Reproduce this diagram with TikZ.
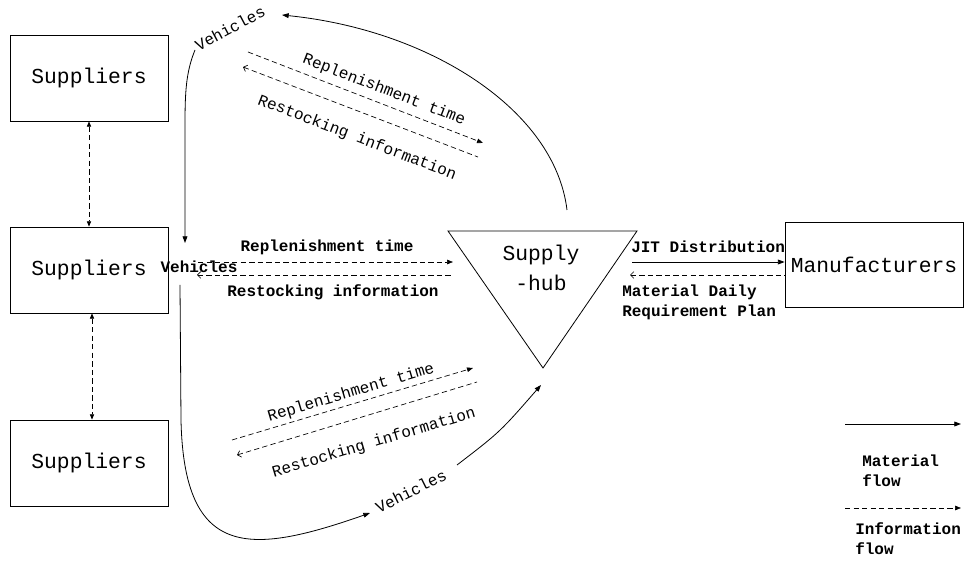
\documentclass[tikz,border=0pt]{standalone}
\usepackage{fontspec}
\setmainfont{Liberation Mono}
\usetikzlibrary{arrows.meta}
\tikzset{
  box/.style={draw, line width=0.6pt, inner sep=0pt, font=\fontsize{16}{18}\selectfont},
  lbl/.style={inner sep=0pt, font=\fontsize{12}{13}\selectfont},
  blbl/.style={inner sep=0pt, font=\fontsize{12}{13}\selectfont\bfseries, align=left},
  matflow/.style={line width=0.6pt, -{Triangle[length=5pt,width=3.6pt]}},
  infoflow/.style={line width=0.5pt, dash pattern=on 4pt off 2.4pt},
  fhead/.style={-{Triangle[length=4.5pt,width=3.4pt]}},
  ohead/.style={{Straight Barb[length=2.5pt,width=5pt]}-},
  bothhead/.style={{Triangle[length=4pt,width=3.2pt]}-{Triangle[length=4pt,width=3.2pt]}}
}
\begin{document}
\begin{tikzpicture}[x=0.75pt,y=-0.75pt]
\useasboundingbox (0,0) rectangle (965,573);
% supplier boxes
\node[box, minimum width=118.5pt, minimum height=64.5pt] (s1) at (89,78) {Suppliers};
\node[box, minimum width=118.5pt, minimum height=64.5pt] (s2) at (89,270) {Suppliers};
\node[box, minimum width=118.5pt, minimum height=64.5pt] (s3) at (89,463) {Suppliers};
\draw[infoflow, bothhead] (s1.south) -- (s2.north);
\draw[infoflow, bothhead] ([xshift=2.25pt]s2.south) -- ([xshift=2.25pt]s3.north);
% manufacturers
\node[box, minimum width=133.5pt, minimum height=63.75pt] (m) at (874,264.5) {Manufacturers};
% supply hub triangle
\coordinate (tl) at (448,231);
\coordinate (tr) at (637,231);
\coordinate (tb) at (543,368);
\draw[line width=0.6pt] (tl) -- (tr) -- (tb) -- cycle;
\node[inner sep=0pt, align=center, font=\fontsize{16}{22}\selectfont] (hub) at (541,268) {Supply\\-hub};
% top route
\coordinate (htop) at (567,210);
\coordinate (vtopend) at (282,15);
\draw[matflow] (htop) .. controls (555,110) and (430,30) .. (vtopend);
\node[lbl, rotate=28] (vtop) at (230,28) {Vehicles};
\coordinate (vdown1) at (195,50);
\coordinate (vdown2) at (185,243);
\draw[matflow] (vdown1) .. controls (186,72) and (185,92) .. (185,125) -- (vdown2);
\coordinate (ta1) at (248,52);
\coordinate (ta2) at (483,143);
\coordinate (tb1) at (478,157);
\coordinate (tb2) at (243,67);
\draw[infoflow, fhead] (ta1) -- (ta2);
\draw[infoflow, ohead] (tb2) -- (tb1);
\node[lbl, rotate=-21] (trep) at (384,90) {Replenishment time};
\node[lbl, rotate=-21] (trest) at (357,138) {Restocking information};
% middle route
\node[blbl] (vmid) at (199,267) {Vehicles};
\coordinate (ma1) at (198,262);
\coordinate (ma2) at (453,262);
\coordinate (mb1) at (453,275);
\coordinate (mb2) at (197,275);
\draw[infoflow, fhead] (ma1) -- (ma2);
\draw[infoflow, ohead] (mb2) -- (mb1);
\node[blbl] (mrep) at (327,247) {Replenishment time};
\node[blbl] (mrest) at (333,292) {Restocking information};
% bottom route
\coordinate (bstart) at (180,285);
\coordinate (bend) at (370,513);
\draw[matflow] (bstart) -- (181,420) .. controls (184,560) and (250,555) .. (bend);
\node[lbl, rotate=26.6] (vbot) at (411,491) {Vehicles};
\coordinate (bl1) at (457,465);
\coordinate (bl2) at (541,385);
\draw[matflow] (bl1) .. controls (500,432) .. (bl2);
\coordinate (ba1) at (232,440);
\coordinate (ba2) at (473,368);
\coordinate (bb1) at (477,382);
\coordinate (bb2) at (237,455);
\draw[infoflow, fhead] (ba1) -- (ba2);
\draw[infoflow, ohead] (bb2) -- (bb1);
\node[lbl, rotate=16.6] (brep) at (351,393) {Replenishment time};
\node[lbl, rotate=16.6] (brest) at (374,443) {Restocking information};
% hub to manufacturers
\coordinate (ja) at (632,262);
\coordinate (jb) at (630,275);
\draw[matflow] (ja) -- (ja -| m.west);
\draw[infoflow, ohead] (jb) -- (jb -| m.west);
\node[blbl, anchor=west] (jit) at (631,247) {JIT Distribution};
\node[blbl, anchor=north west] (mdrp) at (622,285) {Material Daily\\[2pt]Requirement Plan};
% legend
\coordinate (l1a) at (845,424);
\coordinate (l1b) at (961,424);
\coordinate (l2a) at (845,508);
\coordinate (l2b) at (961,508);
\draw[matflow] (l1a) -- (l1b);
\draw[infoflow, fhead] (l2a) -- (l2b);
\node[blbl, anchor=west] (lm) at (862,471) {Material\\[2pt]flow};
\node[blbl, anchor=west] (li) at (855,539) {Information\\[2pt]flow};
\end{tikzpicture}
\end{document}
